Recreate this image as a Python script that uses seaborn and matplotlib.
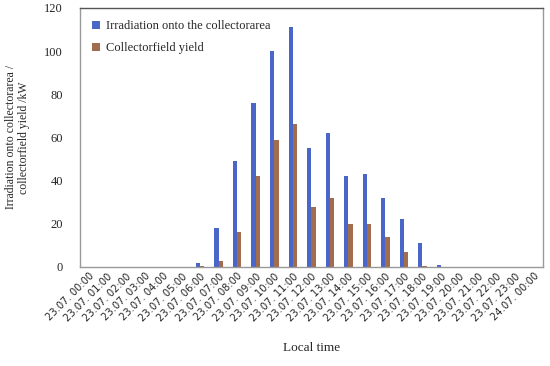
import pandas as pd
import matplotlib
matplotlib.use("Agg")
import matplotlib.pyplot as plt
import seaborn as sns

hours = ["23.07. %02d:00" % h for h in range(24)] + ["24.07. 00:00"]
irradiation = [0, 0, 0, 0, 0, 0, 2, 18, 49, 76, 100, 111, 55, 62, 42, 43, 32, 22, 11, 1, 0, 0, 0, 0, 0]
field_yield = [0, 0, 0, 0, 0, 0, 0.5, 3, 16, 42, 59, 66, 28, 32, 20, 20, 14, 7, 0.5, 0, 0, 0, 0, 0, 0]
series_names = ["Irradiation onto the collectorarea", "Collectorfield yield"]

df = pd.DataFrame({
    "time": hours * 2,
    "value": irradiation + field_yield,
    "series": [series_names[0]] * len(hours) + [series_names[1]] * len(hours),
})

sns.set_style("white")
plt.rcParams["font.family"] = ["Liberation Serif", "DejaVu Serif"]

fig = plt.figure(figsize=(5.5, 3.66), dpi=100)
ax = fig.add_axes([0.145, 0.2705, 0.842, 0.708])

sns.barplot(data=df, x="time", y="value", hue="series", order=hours,
            palette=["#4a66c8", "#a26d4e"], width=0.46, ax=ax, saturation=1,
            linewidth=0, gap=0)

ax.set_ylim(0, 120)
ax.set_xlim(-0.5, len(hours) - 0.5)
ax.set_yticks(range(0, 121, 20))
ax.tick_params(axis="y", labelsize=9, length=0, pad=12)
ax.tick_params(axis="x", length=0, pad=3)
ax.set_xticks(range(len(hours)))
ax.set_xticklabels(hours, rotation=45, ha="right", rotation_mode="anchor",
                   fontsize=7.2, family="DejaVu Sans")
for s in ax.spines.values():
    s.set_color("#999999")
    s.set_linewidth(1)
ax.spines["top"].set_color("#555555")

ax.set_ylabel("Irradiation onto collectorarea /\ncollectorfield yield /kW", fontsize=8.5, labelpad=10)
ax.set_xlabel("Local time", fontsize=9.5, labelpad=14)

leg = ax.legend(loc="upper left", frameon=False, fontsize=9, handlelength=0.6,
                handleheight=0.6, handletextpad=0.5, borderaxespad=0.6, labelspacing=0.8)

fig.savefig("out.png", dpi=100)
